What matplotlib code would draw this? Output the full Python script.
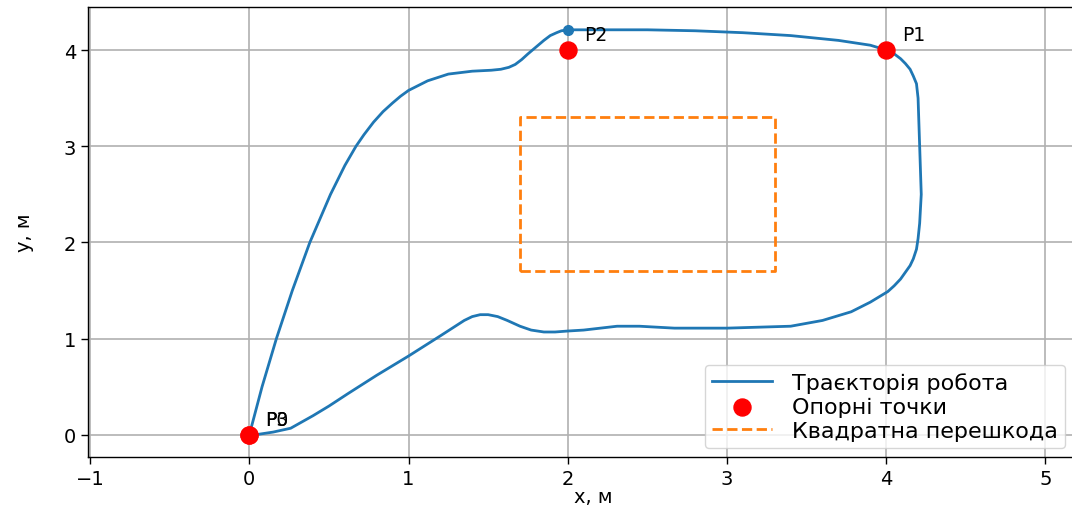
import matplotlib
matplotlib.use("Agg")
import matplotlib.pyplot as plt

plt.rcParams['font.family'] = ['DejaVu Sans']

# Robot trajectory
traj_x = [0.0, 0.08, 0.17, 0.27, 0.38, 0.51, 0.6, 0.67, 0.72, 0.78, 0.84, 0.9, 0.95, 1.0, 1.06,
          1.12, 1.25, 1.4, 1.52, 1.58, 1.63, 1.67, 1.71, 1.75, 1.8, 1.85, 1.89, 1.93, 1.96, 2.0,
          2.2, 2.5, 2.8, 3.1, 3.4, 3.7, 3.9, 4.0, 4.05, 4.09, 4.12, 4.15, 4.17, 4.19, 4.2,
          4.21, 4.22, 4.21, 4.2, 4.19, 4.17, 4.15, 4.12, 4.09, 4.05, 4.01, 3.9, 3.78, 3.6, 3.4,
          3.0, 2.67, 2.45, 2.31, 2.1, 2.0, 1.92, 1.85, 1.77, 1.7, 1.62, 1.56, 1.5, 1.45, 1.4,
          1.35, 1.2, 1.0, 0.8, 0.62, 0.5, 0.4, 0.26, 0.15, 0.05, 0.0]
traj_y = [0.0, 0.5, 1.0, 1.5, 2.0, 2.5, 2.8, 3.0, 3.12, 3.25, 3.36, 3.45, 3.52, 3.58, 3.63,
          3.68, 3.75, 3.78, 3.79, 3.8, 3.82, 3.85, 3.9, 3.96, 4.03, 4.1, 4.15, 4.18, 4.2, 4.21,
          4.21, 4.21, 4.2, 4.18, 4.15, 4.1, 4.05, 4.0, 3.96, 3.91, 3.86, 3.8, 3.73, 3.65, 3.5,
          3.0, 2.5, 2.2, 2.04, 1.93, 1.83, 1.76, 1.69, 1.62, 1.55, 1.49, 1.38, 1.28, 1.19, 1.13,
          1.11, 1.11, 1.13, 1.13, 1.09, 1.08, 1.07, 1.07, 1.09, 1.13, 1.19, 1.23, 1.25, 1.25, 1.23,
          1.19, 1.03, 0.82, 0.62, 0.43, 0.3, 0.2, 0.07, 0.03, 0.005, 0.0]

# Current robot position marker
robot_x = [2.0]
robot_y = [4.21]

# Waypoints
wp_names = ["P0", "P1", "P2", "P3"]
wp_x = [0.0, 4.0, 2.0, 0.0]
wp_y = [0.0, 4.0, 4.0, 0.0]

# Square obstacle
obs_x = [1.7, 3.3, 3.3, 1.7, 1.7]
obs_y = [1.7, 1.7, 3.3, 3.3, 1.7]

fig = plt.figure(figsize=(10.72, 5.06), dpi=100)
ax = fig.add_axes([88 / 1072, 48 / 506, 1010 / 1072, 450 / 506])

ax.plot(traj_x, traj_y, color='#1f77b4', lw=2.0, label='Траєкторія робота', zorder=3)
ax.plot(robot_x, robot_y, 'o', color='#1f77b4', ms=7, zorder=4)
ax.scatter(wp_x, wp_y, color='red', s=150, label='Опорні точки', zorder=5)
for n, x, y in zip(wp_names, wp_x, wp_y):
    ax.text(x + 0.1, y + 0.06, n, fontsize=13.5, va='bottom', ha='left', zorder=6)
ax.plot(obs_x, obs_y, '--', color='#ff7f0e', lw=2.0, label='Квадратна перешкода', zorder=2)

ax.set_xlim(-1.013, 5.33)
ax.set_ylim(-0.229, 4.447)
ax.set_xticks([-1, 0, 1, 2, 3, 4, 5])
ax.set_yticks([0, 1, 2, 3, 4])
ax.tick_params(labelsize=14, length=5, width=1.0)
for s in ax.spines.values():
    s.set_linewidth(1.0)
ax.grid(True, color='#b0b0b0', lw=1.2)
ax.set_axisbelow(True)
ax.set_xlabel('x, м', fontsize=14)
ax.set_ylabel('y, м', fontsize=14)
ax.xaxis.set_label_coords(0.5, -0.066)
ax.yaxis.set_label_coords(-0.053, 0.5)

leg = ax.legend(loc='lower right', bbox_to_anchor=(1065 / 1072, 57 / 506),
                bbox_transform=fig.transFigure, borderaxespad=0, fontsize=16,
                handlelength=2.7, handletextpad=0.9, labelspacing=0.18, borderpad=0.32,
                framealpha=0.8)

fig.savefig('out.png', dpi=100)
